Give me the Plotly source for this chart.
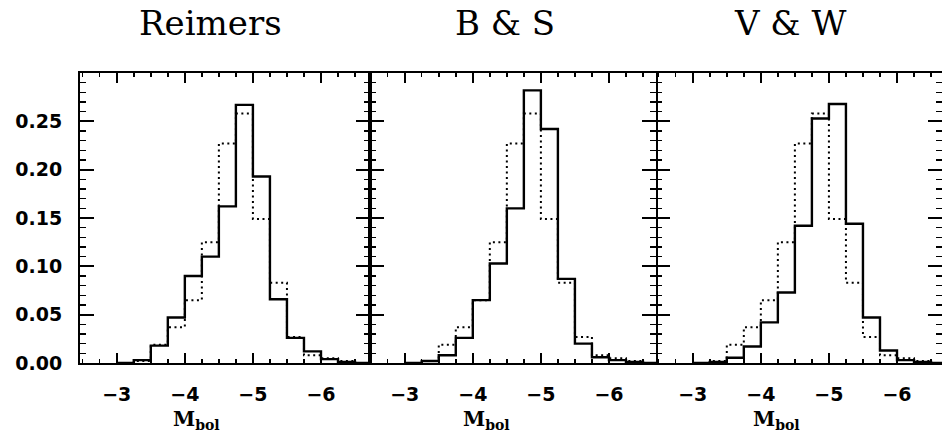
import plotly.graph_objects as go

# ---------------- data ----------------
bin_edges = [-3.0, -3.25, -3.5, -3.75, -4.0, -4.25, -4.5, -4.75, -5.0,
             -5.25, -5.5, -5.75, -6.0, -6.25, -6.5, -6.75]
observed = [0.0, 0.002, 0.019, 0.037, 0.065, 0.125, 0.227, 0.258, 0.149,
            0.083, 0.027, 0.008, 0.005, 0.002, 0.0]
reimers = [0.0, 0.003, 0.018, 0.047, 0.090, 0.110, 0.162, 0.267, 0.193,
           0.066, 0.026, 0.012, 0.004, 0.001, 0.0]
bs = [0.0, 0.002, 0.008, 0.026, 0.065, 0.103, 0.160, 0.282, 0.242,
      0.087, 0.020, 0.006, 0.003, 0.001, 0.0]
vw = [0.0, 0.001, 0.0055, 0.017, 0.042, 0.073, 0.142, 0.253, 0.268,
      0.144, 0.047, 0.013, 0.003, 0.001, 0.0]
panel_titles = ["Reimers", "B &amp; S", "V &amp; W"]
model_series = [reimers, bs, vw]
x_tickvals = [-3, -4, -5, -6]
y_tickvals = [0.0, 0.05, 0.10, 0.15, 0.20, 0.25]

# ---------------- layout geometry (pixels) ----------------
W, H = 942, 435
ML, MR, MT, MB = 80, 0, 73, 72
PW = W - ML - MR
panel_px = [(80, 370), (370, 656), (656, 942)]
x_ranges = [[-2.46, -6.72], [-2.49, -6.691], [-2.46, -6.661]]


def px2paper(px):
    return (px - ML) / PW


fig = go.Figure()


def step(vals):
    return list(bin_edges), list(vals) + [vals[-1]]


for i, model in enumerate(model_series):
    xa = "x" if i == 0 else f"x{i+1}"
    ya = "y" if i == 0 else f"y{i+1}"
    sx, sy = step(observed)
    fig.add_trace(go.Scatter(x=sx, y=sy, mode="lines", line_shape="hv",
                             line=dict(color="black", width=2, dash="2px,3.5px"),
                             xaxis=xa, yaxis=ya, showlegend=False, hoverinfo="skip"))
    sx, sy = step(model)
    fig.add_trace(go.Scatter(x=sx, y=sy, mode="lines", line_shape="hv",
                             line=dict(color="black", width=2.4),
                             xaxis=xa, yaxis=ya, showlegend=False, hoverinfo="skip"))

tickfont = dict(family="DejaVu Sans", size=19, color="black", weight="bold")

layout = dict(
    width=W, height=H,
    margin=dict(l=ML, r=MR, t=MT, b=MB, pad=0),
    paper_bgcolor="white", plot_bgcolor="white",
    showlegend=False,
)

for i in range(3):
    xs = "xaxis" if i == 0 else f"xaxis{i+1}"
    ys = "yaxis" if i == 0 else f"yaxis{i+1}"
    xa = "x" if i == 0 else f"x{i+1}"
    ya = "y" if i == 0 else f"y{i+1}"
    d0, d1 = panel_px[i]
    layout[xs] = dict(
        domain=[px2paper(d0), min(1.0, px2paper(d1))],
        anchor=ya, range=x_ranges[i],
        showline=True, linewidth=2, linecolor="black", mirror="ticks",
        ticks="inside", ticklen=10, tickwidth=2, tickcolor="black",
        tickvals=x_tickvals, ticktext=[f"\u2212{abs(v)}" for v in x_tickvals],
        tickfont=tickfont, ticklabelstandoff=13,
        minor=dict(dtick=0.25, tick0=0, ticks="inside", ticklen=4,
                   tickwidth=1.5, tickcolor="black"),
        showgrid=False, zeroline=False, fixedrange=True,
    )
    layout[ys] = dict(
        domain=[0, 1], anchor=xa, range=[0, 0.30],
        showline=(i != 2), linewidth=2, linecolor="black", mirror="ticks",
        ticks="inside", ticklen=14, tickwidth=2, tickcolor="black",
        tickvals=y_tickvals, ticktext=[f"{v:.2f}" for v in y_tickvals],
        showticklabels=(i == 0), tickfont=tickfont, ticklabelstandoff=12,
        minor=dict(dtick=0.01, tick0=0, ticks="inside", ticklen=6,
                   tickwidth=1.5, tickcolor="black"),
        showgrid=False, zeroline=False, fixedrange=True,
    )

annotations = []
title_centers = [210, 505, 790]
label_centers = [196, 486, 776]
for i in range(3):
    annotations.append(dict(
        text=panel_titles[i], xref="paper", yref="paper",
        x=px2paper(title_centers[i]), y=(363 - 23) / 290,
        xanchor="center", yanchor="middle", showarrow=False,
        font=dict(family="DejaVu Serif", size=34, color="black"),
    ))
    annotations.append(dict(
        text="<b>M</b><sub><b>bol</b></sub>", xref="paper", yref="paper",
        x=px2paper(label_centers[i]), y=(363 - 420) / 290,
        xanchor="center", yanchor="middle", showarrow=False,
        font=dict(family="DejaVu Serif", size=20, color="black"),
    ))
layout["annotations"] = annotations

fig.update_layout(**layout)
fig.write_html("out.html",
               config={"displayModeBar": False, "staticPlot": True},
               post_script="document.body.style.margin='0px';"
                           "document.body.style.overflow='hidden';")
